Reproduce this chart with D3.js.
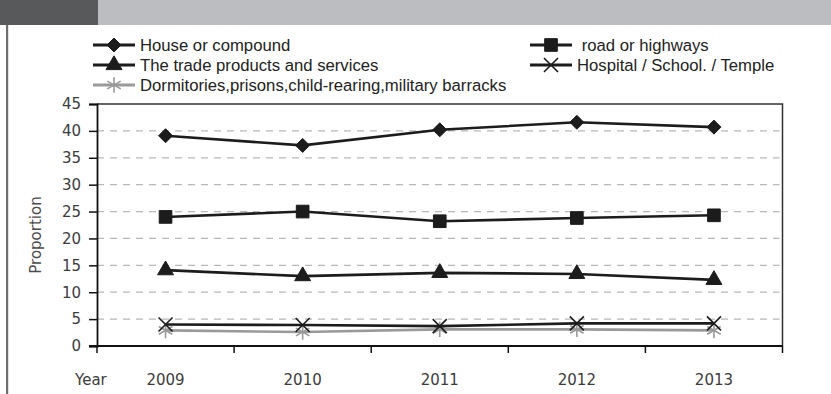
<!DOCTYPE html>
<html>
<head>
<meta charset="utf-8">
<script src="https://cdn.jsdelivr.net/npm/d3@7"></script>
<style>
  body { margin: 0; background: #fff; }
  svg { display: block; }
</style>
</head>
<body>
<div id="chart"></div>
<script>
// values
var years = ["2009", "2010", "2011", "2012", "2013"];
var house = [39.1, 37.3, 40.2, 41.6, 40.7];
var road = [24.0, 25.0, 23.2, 23.8, 24.3];
var trade = [14.1, 13.0, 13.6, 13.4, 12.3];
var hospital = [4.0, 3.9, 3.7, 4.2, 4.2];
var dorm = [2.9, 2.6, 3.1, 3.1, 2.9];
var yTicks = [0, 5, 10, 15, 20, 25, 30, 35, 40, 45];
var seriesNames = [
  "House or compound",
  " road or highways",
  "The trade products and services",
  "Hospital / School. / Temple",
  "Dormitories,prisons,child-rearing,military barracks"
];

var svgWidth = 831;
var svgHeight = 394;
var plot = { left: 97, right: 782.5, top: 104, bottom: 346 };

var svg = d3.select("#chart")
  .append("svg")
  .attr("width", svgWidth)
  .attr("height", svgHeight);

// header band + left page rule
svg.append("rect").attr("x", 0).attr("y", 0).attr("width", svgWidth).attr("height", 25).attr("fill", "#bcbdc0");
svg.append("rect").attr("x", 0).attr("y", 0).attr("width", 98).attr("height", 25).attr("fill", "#58595b");
svg.append("rect").attr("x", 6).attr("y", 25).attr("width", 2.2).attr("height", svgHeight - 25).attr("fill", "#6d6e70");

var x = d3.scaleBand().domain(years).range([plot.left, plot.right]);
var y = d3.scaleLinear().domain([0, 45]).range([plot.bottom, plot.top]);
var cx = function(yr) { return x(yr) + x.bandwidth() / 2; };

var axisFont = "DejaVu Sans, Verdana, sans-serif";

// dashed gridlines
svg.append("g").selectAll("line")
  .data(yTicks.filter(function(t) { return t > 0 && t < 45; }))
  .enter().append("line")
  .attr("x1", plot.left).attr("x2", plot.right - 3)
  .attr("y1", function(d) { return y(d); }).attr("y2", function(d) { return y(d); })
  .attr("stroke", "#b8b8b8").attr("stroke-width", 1.2)
  .attr("stroke-dasharray", "7,6");

// top and right border of plot
svg.append("path")
  .attr("d", "M" + plot.left + "," + plot.top + "H" + plot.right + "V" + plot.bottom)
  .attr("fill", "none").attr("stroke", "#333").attr("stroke-width", 1.5);

// y axis
var yAxis = svg.append("g")
  .attr("transform", "translate(" + plot.left + ",0)")
  .call(d3.axisLeft(y).tickValues(yTicks).tickSize(8).tickPadding(8));
yAxis.select(".domain").attr("stroke", "#111").attr("stroke-width", 1.8);
yAxis.selectAll(".tick line").attr("stroke", "#111").attr("stroke-width", 1.5);
yAxis.selectAll("text").attr("font-family", axisFont).attr("font-size", 15).attr("fill", "#3c3c3c");

// x axis: labels at band centres, tick marks at band edges
var xAxis = svg.append("g")
  .attr("transform", "translate(0," + plot.bottom + ")")
  .call(d3.axisBottom(x).tickSize(0).tickPadding(28));
xAxis.select(".domain").remove();
xAxis.selectAll("text").attr("font-family", axisFont).attr("font-size", 15).attr("fill", "#3c3c3c");

var edges = years.map(function(yr) { return x(yr); }).concat([plot.right]);
svg.append("line")
  .attr("x1", plot.left - 8).attr("x2", plot.right)
  .attr("y1", plot.bottom).attr("y2", plot.bottom)
  .attr("stroke", "#111").attr("stroke-width", 1.8);
svg.append("g").selectAll("line")
  .data(edges).enter().append("line")
  .attr("x1", function(d) { return d; }).attr("x2", function(d) { return d; })
  .attr("y1", plot.bottom).attr("y2", plot.bottom + 7)
  .attr("stroke", "#111").attr("stroke-width", 1.5);

svg.append("text")
  .attr("x", 75).attr("y", 385)
  .attr("font-family", axisFont).attr("font-size", 15).attr("fill", "#3c3c3c")
  .text("Year");

svg.append("text")
  .attr("transform", "translate(41,235) rotate(-90)")
  .attr("text-anchor", "middle")
  .attr("font-family", axisFont).attr("font-size", 15).attr("fill", "#4a4a4a")
  .text("Proportion");

// series table built from the arrays
var series = [
  { name: seriesNames[0], values: house, symbol: d3.symbolDiamond2, size: 125, color: "#1c1c1c", stroked: false },
  { name: seriesNames[1], values: road, symbol: d3.symbolSquare, size: 160, color: "#1c1c1c", stroked: false },
  { name: seriesNames[2], values: trade, symbol: d3.symbolTriangle, size: 110, color: "#1c1c1c", stroked: false },
  { name: seriesNames[3], values: hospital, symbol: d3.symbolTimes, size: 130, color: "#1c1c1c", stroked: true },
  { name: seriesNames[4], values: dorm, symbol: d3.symbolAsterisk, size: 170, color: "#9a9a9a", stroked: true }
];

var line = d3.line()
  .x(function(d, i) { return cx(years[i]); })
  .y(function(d) { return y(d); });

function drawMarker(g, s, tx, ty) {
  g.append("path")
    .attr("transform", "translate(" + tx + "," + ty + ")")
    .attr("d", d3.symbol().type(s.symbol).size(s.size)())
    .attr("fill", s.stroked ? "none" : s.color)
    .attr("stroke", s.color)
    .attr("stroke-width", s.stroked ? 1.6 : 1);
}

// draw lighter series first so black lines sit on top
series.slice().reverse().forEach(function(s) {
  var g = svg.append("g");
  g.append("path")
    .datum(s.values)
    .attr("d", line)
    .attr("fill", "none")
    .attr("stroke", s.color)
    .attr("stroke-width", 2.6);
  s.values.forEach(function(v, i) {
    drawMarker(g, s, cx(years[i]), y(v));
  });
});

// legend
var legendPos = [
  { x: 93, y: 45 }, { x: 530, y: 45 },
  { x: 93, y: 65 }, { x: 530, y: 65 },
  { x: 93, y: 85 }
];
series.forEach(function(s, i) {
  var p = legendPos[i];
  var g = svg.append("g");
  g.append("line")
    .attr("x1", p.x).attr("x2", p.x + 42)
    .attr("y1", p.y).attr("y2", p.y)
    .attr("stroke", s.color).attr("stroke-width", 2.8);
  drawMarker(g, s, p.x + 21, p.y);
  g.append("text")
    .attr("x", p.x + 47).attr("y", p.y + 5.5)
    .attr("font-family", "Liberation Sans, Arial, sans-serif")
    .attr("font-size", 16.7)
    .attr("fill", "#222")
    .style("white-space", "pre")
    .text(s.name);
});
</script>
</body>
</html>
